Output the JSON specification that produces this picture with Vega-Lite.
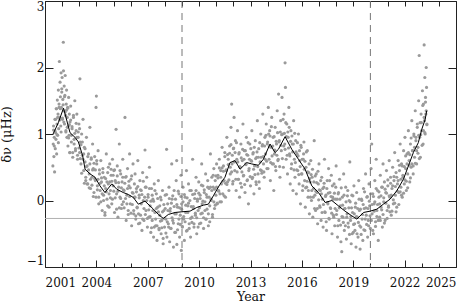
{
  "$schema": "https://vega.github.io/schema/vega-lite/v6.json",
  "width": 411,
  "height": 266,
  "autosize": "none",
  "padding": {"left": 45, "top": 1, "right": 17, "bottom": 36},
  "config": {
    "view": {"stroke": "#222", "strokeWidth": 1},
    "font": "DejaVu Serif",
    "axis": {"grid": false, "domain": false, "tickColor": "#222", "labelColor": "#111", "titleColor": "#111", "labelFont": "DejaVu Serif", "titleFont": "DejaVu Serif", "labelFontSize": 12, "titleFontSize": 13, "titleFontWeight": "normal"}
  },
  "datasets": {
    "pts": [
{"t":2001.46,"v":0.52},{"t":2001.48,"v":0.85},{"t":2001.50,"v":1.12},{"t":2001.52,"v":0.66},{"t":2001.54,"v":0.95},{"t":2001.56,"v":0.43},{"t":2001.58,"v":1.05},{"t":2001.60,"v":0.78},{"t":2001.62,"v":1.22},{"t":2001.64,"v":0.92},{"t":2001.66,"v":1.38},{"t":2001.68,"v":0.70},{"t":2001.70,"v":1.15},{"t":2001.72,"v":1.51},{"t":2001.74,"v":0.98},{"t":2001.76,"v":1.30},{"t":2001.78,"v":1.66},{"t":2001.80,"v":1.08},{"t":2001.82,"v":1.45},{"t":2001.84,"v":2.09},{"t":2001.86,"v":1.25},{"t":2001.88,"v":1.78},{"t":2001.90,"v":1.56},{"t":2001.92,"v":1.12},{"t":2001.94,"v":1.92},{"t":2001.96,"v":1.40},{"t":2001.98,"v":1.68},{"t":2002.00,"v":1.85},{"t":2002.02,"v":1.22},{"t":2002.04,"v":1.52},{"t":2002.07,"v":2.38},{"t":2002.08,"v":1.95},{"t":2002.10,"v":1.35},{"t":2002.12,"v":1.72},{"t":2002.14,"v":1.15},{"t":2002.16,"v":1.58},{"t":2002.18,"v":1.88},{"t":2002.20,"v":1.28},{"t":2002.22,"v":1.05},{"t":2002.24,"v":1.45},{"t":2002.26,"v":1.66},{"t":2002.28,"v":0.95},{"t":2002.30,"v":1.25},{"t":2002.32,"v":1.40},{"t":2002.34,"v":0.82},{"t":2002.36,"v":1.12},{"t":2002.38,"v":1.55},{"t":2002.40,"v":0.98},{"t":2002.42,"v":1.30},{"t":2002.44,"v":0.72},{"t":2002.46,"v":1.18},{"t":2002.50,"v":1.42},{"t":2002.54,"v":0.88},{"t":2002.58,"v":1.08},{"t":2002.62,"v":0.65},{"t":2002.66,"v":1.25},{"t":2002.70,"v":0.92},{"t":2002.74,"v":1.50},{"t":2002.78,"v":0.78},{"t":2002.82,"v":1.05},{"t":2002.86,"v":1.30},{"t":2002.90,"v":0.62},{"t":2002.94,"v":0.95},{"t":2002.98,"v":1.15},{"t":2003.02,"v":0.72},{"t":2003.04,"v":1.83},{"t":2003.06,"v":0.88},{"t":2003.10,"v":0.55},{"t":2003.14,"v":1.00},{"t":2003.18,"v":0.68},{"t":2003.22,"v":1.22},{"t":2003.26,"v":0.45},{"t":2003.30,"v":0.80},{"t":2003.34,"v":0.58},{"t":2003.38,"v":0.30},{"t":2003.42,"v":0.95},{"t":2003.46,"v":0.52},{"t":2003.50,"v":0.25},{"t":2003.54,"v":0.70},{"t":2003.58,"v":0.40},{"t":2003.62,"v":1.10},{"t":2003.66,"v":0.18},{"t":2003.70,"v":0.62},{"t":2003.74,"v":0.35},{"t":2003.78,"v":0.85},{"t":2003.82,"v":0.48},{"t":2003.86,"v":0.12},{"t":2003.90,"v":0.66},{"t":2003.94,"v":0.30},{"t":2003.98,"v":1.40},{"t":2004.00,"v":1.57},{"t":2004.02,"v":0.55},{"t":2004.06,"v":0.22},{"t":2004.10,"v":0.75},{"t":2004.14,"v":-0.05},{"t":2004.18,"v":0.40},{"t":2004.22,"v":0.15},{"t":2004.26,"v":0.60},{"t":2004.30,"v":0.28},{"t":2004.34,"v":-0.15},{"t":2004.38,"v":0.48},{"t":2004.42,"v":0.08},{"t":2004.46,"v":0.35},{"t":2004.50,"v":-0.22},{"t":2004.54,"v":0.18},{"t":2004.58,"v":0.70},{"t":2004.62,"v":0.02},{"t":2004.66,"v":0.42},{"t":2004.70,"v":0.25},{"t":2004.74,"v":-0.10},{"t":2004.78,"v":0.55},{"t":2004.82,"v":0.15},{"t":2004.86,"v":0.38},{"t":2004.90,"v":-0.05},{"t":2004.94,"v":0.62},{"t":2004.98,"v":0.22},{"t":2005.02,"v":0.45},{"t":2005.06,"v":-0.18},{"t":2005.10,"v":0.30},{"t":2005.15,"v":1.07},{"t":2005.18,"v":0.10},{"t":2005.22,"v":0.52},{"t":2005.26,"v":-0.25},{"t":2005.30,"v":0.20},{"t":2005.34,"v":0.85},{"t":2005.38,"v":0.05},{"t":2005.42,"v":0.40},{"t":2005.46,"v":-0.12},{"t":2005.50,"v":0.28},{"t":2005.54,"v":0.62},{"t":2005.58,"v":-0.02},{"t":2005.62,"v":0.15},{"t":2005.67,"v":1.25},{"t":2005.70,"v":0.35},{"t":2005.74,"v":-0.30},{"t":2005.78,"v":0.08},{"t":2005.82,"v":0.48},{"t":2005.86,"v":-0.15},{"t":2005.90,"v":0.22},{"t":2005.94,"v":0.70},{"t":2005.98,"v":-0.05},{"t":2006.02,"v":0.32},{"t":2006.06,"v":-0.38},{"t":2006.10,"v":0.12},{"t":2006.14,"v":0.55},{"t":2006.18,"v":-0.20},{"t":2006.22,"v":0.05},{"t":2006.26,"v":0.40},{"t":2006.30,"v":-0.28},{"t":2006.34,"v":0.18},{"t":2006.38,"v":-0.10},{"t":2006.42,"v":0.60},{"t":2006.46,"v":-0.35},{"t":2006.50,"v":0.08},{"t":2006.54,"v":0.30},{"t":2006.58,"v":-0.22},{"t":2006.62,"v":0.15},{"t":2006.66,"v":-0.45},{"t":2006.70,"v":0.42},{"t":2006.74,"v":0.00},{"t":2006.78,"v":-0.30},{"t":2006.84,"v":0.76},{"t":2006.86,"v":0.20},{"t":2006.90,"v":-0.15},{"t":2006.94,"v":0.35},{"t":2006.98,"v":-0.40},{"t":2007.02,"v":0.05},{"t":2007.06,"v":-0.25},{"t":2007.10,"v":0.50},{"t":2007.14,"v":-0.08},{"t":2007.18,"v":-0.48},{"t":2007.22,"v":0.18},{"t":2007.26,"v":-0.30},{"t":2007.30,"v":0.02},{"t":2007.34,"v":-0.55},{"t":2007.38,"v":0.25},{"t":2007.42,"v":-0.18},{"t":2007.46,"v":-0.38},{"t":2007.50,"v":0.10},{"t":2007.54,"v":-0.60},{"t":2007.58,"v":-0.10},{"t":2007.62,"v":0.30},{"t":2007.66,"v":-0.42},{"t":2007.70,"v":-0.22},{"t":2007.74,"v":0.05},{"t":2007.78,"v":-0.50},{"t":2007.82,"v":-0.30},{"t":2007.86,"v":0.15},{"t":2007.90,"v":-0.65},{"t":2007.94,"v":-0.15},{"t":2007.98,"v":-0.40},{"t":2008.02,"v":0.08},{"t":2008.06,"v":-0.28},{"t":2008.10,"v":0.77},{"t":2008.12,"v":-0.55},{"t":2008.16,"v":-0.05},{"t":2008.20,"v":-0.35},{"t":2008.24,"v":0.20},{"t":2008.28,"v":-0.62},{"t":2008.32,"v":-0.12},{"t":2008.36,"v":-0.42},{"t":2008.40,"v":0.55},{"t":2008.42,"v":0.02},{"t":2008.46,"v":-0.30},{"t":2008.50,"v":-0.70},{"t":2008.54,"v":0.15},{"t":2008.58,"v":-0.20},{"t":2008.62,"v":-0.48},{"t":2008.66,"v":0.30},{"t":2008.69,"v":0.60},{"t":2008.70,"v":-0.66},{"t":2008.74,"v":-0.10},{"t":2008.78,"v":-0.35},{"t":2008.82,"v":0.10},{"t":2008.86,"v":-0.55},{"t":2008.90,"v":-0.22},{"t":2008.94,"v":0.38},{"t":2008.96,"v":-0.75},{"t":2008.98,"v":-0.05},{"t":2009.02,"v":-0.40},{"t":2009.06,"v":0.20},{"t":2009.10,"v":-0.28},{"t":2009.14,"v":-0.60},{"t":2009.18,"v":0.05},{"t":2009.22,"v":-0.18},{"t":2009.26,"v":0.45},{"t":2009.30,"v":-0.45},{"t":2009.34,"v":-0.08},{"t":2009.38,"v":0.25},{"t":2009.42,"v":-0.35},{"t":2009.46,"v":0.00},{"t":2009.50,"v":-0.55},{"t":2009.54,"v":0.15},{"t":2009.58,"v":-0.25},{"t":2009.62,"v":0.62},{"t":2009.66,"v":-0.12},{"t":2009.70,"v":-0.40},{"t":2009.74,"v":0.10},{"t":2009.78,"v":-0.22},{"t":2009.82,"v":0.35},{"t":2009.86,"v":-0.50},{"t":2009.90,"v":0.02},{"t":2009.94,"v":-0.15},{"t":2009.98,"v":0.28},{"t":2010.02,"v":-0.35},{"t":2010.06,"v":0.08},{"t":2010.10,"v":-0.20},{"t":2010.15,"v":0.55},{"t":2010.18,"v":-0.05},{"t":2010.22,"v":0.22},{"t":2010.26,"v":-0.42},{"t":2010.30,"v":0.12},{"t":2010.34,"v":-0.15},{"t":2010.38,"v":0.40},{"t":2010.42,"v":-0.28},{"t":2010.46,"v":0.05},{"t":2010.50,"v":0.30},{"t":2010.54,"v":-0.38},{"t":2010.58,"v":0.18},{"t":2010.62,"v":-0.08},{"t":2010.66,"v":0.70},{"t":2010.70,"v":0.02},{"t":2010.74,"v":0.35},{"t":2010.78,"v":-0.25},{"t":2010.82,"v":0.20},{"t":2010.86,"v":0.48},{"t":2010.90,"v":-0.12},{"t":2010.94,"v":0.30},{"t":2010.98,"v":0.08},{"t":2011.02,"v":0.55},{"t":2011.06,"v":-0.05},{"t":2011.10,"v":0.38},{"t":2011.14,"v":0.15},{"t":2011.18,"v":0.62},{"t":2011.22,"v":-0.02},{"t":2011.26,"v":0.45},{"t":2011.30,"v":0.25},{"t":2011.34,"v":0.80},{"t":2011.38,"v":0.10},{"t":2011.42,"v":0.52},{"t":2011.46,"v":0.30},{"t":2011.50,"v":0.72},{"t":2011.54,"v":0.05},{"t":2011.58,"v":0.45},{"t":2011.62,"v":0.95},{"t":2011.66,"v":0.28},{"t":2011.70,"v":0.62},{"t":2011.74,"v":0.15},{"t":2011.78,"v":0.82},{"t":2011.82,"v":0.40},{"t":2011.86,"v":1.10},{"t":2011.90,"v":1.45},{"t":2011.92,"v":0.55},{"t":2011.96,"v":0.25},{"t":2012.00,"v":0.78},{"t":2012.04,"v":1.25},{"t":2012.08,"v":0.45},{"t":2012.12,"v":0.90},{"t":2012.16,"v":0.15},{"t":2012.20,"v":0.62},{"t":2012.24,"v":1.05},{"t":2012.28,"v":0.32},{"t":2012.32,"v":0.70},{"t":2012.36,"v":0.05},{"t":2012.40,"v":0.50},{"t":2012.44,"v":0.85},{"t":2012.48,"v":0.20},{"t":2012.52,"v":0.60},{"t":2012.56,"v":1.15},{"t":2012.60,"v":0.38},{"t":2012.64,"v":0.75},{"t":2012.68,"v":0.12},{"t":2012.72,"v":0.55},{"t":2012.76,"v":0.95},{"t":2012.80,"v":0.30},{"t":2012.84,"v":0.68},{"t":2012.88,"v":-0.05},{"t":2012.92,"v":0.48},{"t":2012.96,"v":0.85},{"t":2013.00,"v":0.22},{"t":2013.04,"v":0.60},{"t":2013.08,"v":1.05},{"t":2013.12,"v":0.35},{"t":2013.16,"v":0.72},{"t":2013.20,"v":0.10},{"t":2013.24,"v":0.52},{"t":2013.28,"v":0.90},{"t":2013.32,"v":0.28},{"t":2013.36,"v":0.65},{"t":2013.40,"v":1.20},{"t":2013.44,"v":0.40},{"t":2013.48,"v":0.78},{"t":2013.52,"v":0.18},{"t":2013.56,"v":0.58},{"t":2013.60,"v":1.00},{"t":2013.64,"v":0.45},{"t":2013.68,"v":0.82},{"t":2013.72,"v":1.30},{"t":2013.76,"v":0.55},{"t":2013.80,"v":0.35},{"t":2013.84,"v":0.95},{"t":2013.88,"v":0.70},{"t":2013.92,"v":1.15},{"t":2013.96,"v":0.48},{"t":2014.00,"v":0.88},{"t":2014.04,"v":1.40},{"t":2014.08,"v":0.62},{"t":2014.12,"v":1.05},{"t":2014.16,"v":0.30},{"t":2014.20,"v":0.80},{"t":2014.24,"v":1.25},{"t":2014.28,"v":0.55},{"t":2014.32,"v":0.95},{"t":2014.36,"v":0.15},{"t":2014.40,"v":0.70},{"t":2014.44,"v":1.10},{"t":2014.48,"v":0.45},{"t":2014.52,"v":0.85},{"t":2014.56,"v":1.35},{"t":2014.60,"v":0.60},{"t":2014.64,"v":1.60},{"t":2014.68,"v":0.90},{"t":2014.72,"v":0.35},{"t":2014.76,"v":1.20},{"t":2014.80,"v":0.75},{"t":2014.84,"v":1.55},{"t":2014.88,"v":1.00},{"t":2014.92,"v":0.50},{"t":2014.96,"v":1.30},{"t":2015.00,"v":0.85},{"t":2015.02,"v":2.07},{"t":2015.04,"v":1.70},{"t":2015.08,"v":0.62},{"t":2015.12,"v":1.15},{"t":2015.16,"v":0.40},{"t":2015.20,"v":0.95},{"t":2015.24,"v":1.40},{"t":2015.28,"v":0.70},{"t":2015.32,"v":0.25},{"t":2015.36,"v":1.05},{"t":2015.40,"v":0.55},{"t":2015.44,"v":0.85},{"t":2015.48,"v":0.15},{"t":2015.52,"v":1.20},{"t":2015.56,"v":0.62},{"t":2015.60,"v":0.35},{"t":2015.64,"v":0.90},{"t":2015.68,"v":0.10},{"t":2015.72,"v":0.70},{"t":2015.76,"v":0.45},{"t":2015.80,"v":1.00},{"t":2015.84,"v":0.25},{"t":2015.88,"v":0.60},{"t":2015.92,"v":-0.05},{"t":2015.96,"v":0.80},{"t":2016.00,"v":0.40},{"t":2016.04,"v":0.15},{"t":2016.08,"v":0.62},{"t":2016.12,"v":0.88},{"t":2016.16,"v":0.30},{"t":2016.20,"v":-0.10},{"t":2016.24,"v":0.50},{"t":2016.28,"v":0.20},{"t":2016.32,"v":0.75},{"t":2016.36,"v":0.05},{"t":2016.40,"v":0.42},{"t":2016.44,"v":-0.20},{"t":2016.48,"v":0.28},{"t":2016.52,"v":0.60},{"t":2016.56,"v":0.00},{"t":2016.60,"v":0.35},{"t":2016.64,"v":-0.25},{"t":2016.68,"v":0.18},{"t":2016.72,"v":0.90},{"t":2016.76,"v":0.08},{"t":2016.80,"v":-0.15},{"t":2016.84,"v":0.40},{"t":2016.88,"v":0.12},{"t":2016.92,"v":-0.35},{"t":2016.96,"v":0.25},{"t":2017.00,"v":0.55},{"t":2017.04,"v":-0.08},{"t":2017.08,"v":0.15},{"t":2017.12,"v":-0.30},{"t":2017.16,"v":0.35},{"t":2017.20,"v":0.02},{"t":2017.24,"v":-0.40},{"t":2017.28,"v":0.20},{"t":2017.32,"v":0.62},{"t":2017.36,"v":-0.18},{"t":2017.40,"v":0.08},{"t":2017.44,"v":-0.45},{"t":2017.48,"v":0.30},{"t":2017.52,"v":-0.05},{"t":2017.56,"v":0.48},{"t":2017.60,"v":-0.28},{"t":2017.64,"v":0.12},{"t":2017.68,"v":-0.12},{"t":2017.72,"v":0.38},{"t":2017.76,"v":-0.50},{"t":2017.80,"v":0.05},{"t":2017.84,"v":-0.22},{"t":2017.88,"v":0.25},{"t":2017.92,"v":-0.38},{"t":2017.96,"v":0.02},{"t":2018.00,"v":0.52},{"t":2018.04,"v":-0.15},{"t":2018.08,"v":-0.55},{"t":2018.12,"v":0.10},{"t":2018.16,"v":-0.30},{"t":2018.20,"v":0.32},{"t":2018.24,"v":-0.08},{"t":2018.28,"v":-0.62},{"t":2018.33,"v":-0.77},{"t":2018.36,"v":0.05},{"t":2018.40,"v":-0.25},{"t":2018.44,"v":0.40},{"t":2018.48,"v":-0.45},{"t":2018.52,"v":-0.12},{"t":2018.56,"v":0.20},{"t":2018.60,"v":-0.58},{"t":2018.64,"v":-0.20},{"t":2018.68,"v":0.15},{"t":2018.72,"v":-0.40},{"t":2018.76,"v":0.00},{"t":2018.80,"v":0.58},{"t":2018.84,"v":-0.30},{"t":2018.88,"v":-0.65},{"t":2018.92,"v":0.08},{"t":2018.96,"v":-0.18},{"t":2019.00,"v":-0.48},{"t":2019.04,"v":0.22},{"t":2019.08,"v":-0.35},{"t":2019.12,"v":-0.10},{"t":2019.16,"v":-0.70},{"t":2019.20,"v":0.12},{"t":2019.24,"v":-0.25},{"t":2019.28,"v":-0.55},{"t":2019.32,"v":0.30},{"t":2019.36,"v":-0.15},{"t":2019.40,"v":-0.73},{"t":2019.44,"v":-0.40},{"t":2019.48,"v":0.02},{"t":2019.52,"v":-0.28},{"t":2019.56,"v":-0.60},{"t":2019.60,"v":0.18},{"t":2019.64,"v":-0.12},{"t":2019.68,"v":-0.45},{"t":2019.72,"v":0.40},{"t":2019.76,"v":-0.22},{"t":2019.80,"v":0.05},{"t":2019.84,"v":-0.55},{"t":2019.88,"v":-0.30},{"t":2019.92,"v":0.25},{"t":2019.96,"v":-0.08},{"t":2020.00,"v":-0.42},{"t":2020.04,"v":0.48},{"t":2020.08,"v":0.85},{"t":2020.10,"v":-0.20},{"t":2020.14,"v":0.10},{"t":2020.18,"v":-0.50},{"t":2020.22,"v":-0.05},{"t":2020.26,"v":0.30},{"t":2020.30,"v":-0.32},{"t":2020.34,"v":0.62},{"t":2020.38,"v":-0.15},{"t":2020.42,"v":0.15},{"t":2020.46,"v":-0.60},{"t":2020.50,"v":0.05},{"t":2020.54,"v":-0.25},{"t":2020.58,"v":0.38},{"t":2020.62,"v":-0.10},{"t":2020.66,"v":0.20},{"t":2020.70,"v":-0.40},{"t":2020.74,"v":0.55},{"t":2020.78,"v":-0.02},{"t":2020.82,"v":0.28},{"t":2020.86,"v":-0.30},{"t":2020.90,"v":0.12},{"t":2020.94,"v":0.45},{"t":2020.98,"v":-0.15},{"t":2021.02,"v":0.22},{"t":2021.06,"v":-0.08},{"t":2021.10,"v":0.60},{"t":2021.14,"v":0.05},{"t":2021.18,"v":0.35},{"t":2021.22,"v":-0.22},{"t":2021.26,"v":0.18},{"t":2021.30,"v":0.50},{"t":2021.34,"v":-0.05},{"t":2021.38,"v":0.30},{"t":2021.42,"v":0.72},{"t":2021.46,"v":0.08},{"t":2021.50,"v":0.42},{"t":2021.54,"v":-0.10},{"t":2021.58,"v":0.25},{"t":2021.62,"v":0.60},{"t":2021.66,"v":0.12},{"t":2021.70,"v":0.45},{"t":2021.74,"v":0.85},{"t":2021.78,"v":0.20},{"t":2021.82,"v":0.55},{"t":2021.86,"v":0.05},{"t":2021.90,"v":0.38},{"t":2021.94,"v":0.75},{"t":2021.98,"v":0.25},{"t":2022.02,"v":0.95},{"t":2022.06,"v":0.48},{"t":2022.10,"v":0.15},{"t":2022.14,"v":0.70},{"t":2022.18,"v":0.40},{"t":2022.22,"v":1.05},{"t":2022.26,"v":0.60},{"t":2022.30,"v":0.28},{"t":2022.34,"v":0.85},{"t":2022.38,"v":0.50},{"t":2022.42,"v":1.20},{"t":2022.46,"v":0.75},{"t":2022.50,"v":0.40},{"t":2022.54,"v":1.00},{"t":2022.58,"v":0.65},{"t":2022.62,"v":1.35},{"t":2022.66,"v":0.90},{"t":2022.70,"v":0.55},{"t":2022.74,"v":1.15},{"t":2022.78,"v":0.80},{"t":2022.82,"v":1.50},{"t":2022.85,"v":2.18},{"t":2022.88,"v":0.95},{"t":2022.92,"v":0.65},{"t":2022.96,"v":1.30},{"t":2023.00,"v":1.05},{"t":2023.04,"v":1.65},{"t":2023.08,"v":0.85},{"t":2023.10,"v":1.45},{"t":2023.14,"v":2.34},{"t":2023.16,"v":1.20},{"t":2023.18,"v":1.85},{"t":2023.20,"v":1.00},{"t":2023.22,"v":1.55},{"t":2023.24,"v":1.30},{"t":2023.26,"v":2.00},{"t":2023.28,"v":1.70},{"t":2023.30,"v":1.15},
{"t":2001.50,"v":1.06},{"t":2001.54,"v":0.82},{"t":2001.58,"v":1.22},{"t":2001.62,"v":1.02},{"t":2001.66,"v":1.38},{"t":2001.70,"v":0.99},{"t":2001.74,"v":1.25},{"t":2001.78,"v":0.87},{"t":2001.82,"v":1.40},{"t":2001.86,"v":1.21},{"t":2001.90,"v":1.38},{"t":2001.94,"v":1.03},{"t":2001.98,"v":1.63},{"t":2002.02,"v":1.24},{"t":2002.06,"v":1.44},{"t":2002.10,"v":1.18},{"t":2002.14,"v":1.56},
{"t":2002.18,"v":1.33},{"t":2002.22,"v":1.03},{"t":2002.26,"v":1.36},{"t":2002.30,"v":1.10},{"t":2002.34,"v":1.39},{"t":2002.38,"v":0.94},{"t":2002.42,"v":1.14},{"t":2002.46,"v":0.72},{"t":2002.50,"v":1.21},{"t":2002.54,"v":0.98},{"t":2002.58,"v":1.11},{"t":2002.62,"v":0.72},{"t":2002.66,"v":1.28},{"t":2002.70,"v":0.85},{"t":2002.74,"v":1.01},{"t":2002.78,"v":0.75},{"t":2002.82,"v":1.16},
{"t":2002.86,"v":0.95},{"t":2002.90,"v":0.68},{"t":2002.94,"v":1.03},{"t":2002.98,"v":0.79},{"t":2003.02,"v":1.08},{"t":2003.06,"v":0.63},{"t":2003.10,"v":0.84},{"t":2003.14,"v":0.41},{"t":2003.18,"v":0.88},{"t":2003.22,"v":0.62},{"t":2003.26,"v":0.70},{"t":2003.30,"v":0.26},{"t":2003.34,"v":0.78},{"t":2003.38,"v":0.35},{"t":2003.42,"v":0.51},{"t":2003.46,"v":0.25},{"t":2003.50,"v":0.66},
{"t":2003.54,"v":0.46},{"t":2003.58,"v":0.19},{"t":2003.62,"v":0.55},{"t":2003.66,"v":0.32},{"t":2003.70,"v":0.64},{"t":2003.74,"v":0.23},{"t":2003.78,"v":0.46},{"t":2003.82,"v":0.06},{"t":2003.86,"v":0.56},{"t":2003.90,"v":0.33},{"t":2003.94,"v":0.46},{"t":2003.98,"v":0.05},{"t":2004.02,"v":0.60},{"t":2004.06,"v":0.16},{"t":2004.10,"v":0.32},{"t":2004.14,"v":0.05},{"t":2004.18,"v":0.46},
{"t":2004.22,"v":0.26},{"t":2004.26,"v":-0.02},{"t":2004.30,"v":0.34},{"t":2004.34,"v":0.10},{"t":2004.38,"v":0.42},{"t":2004.42,"v":0.00},{"t":2004.46,"v":0.22},{"t":2004.50,"v":-0.18},{"t":2004.54,"v":0.33},{"t":2004.58,"v":0.13},{"t":2004.62,"v":0.28},{"t":2004.66,"v":-0.08},{"t":2004.70,"v":0.50},{"t":2004.74,"v":0.10},{"t":2004.78,"v":0.28},{"t":2004.82,"v":0.04},{"t":2004.86,"v":0.47},
{"t":2004.90,"v":0.29},{"t":2004.94,"v":0.02},{"t":2004.98,"v":0.38},{"t":2005.02,"v":0.14},{"t":2005.06,"v":0.46},{"t":2005.10,"v":0.04},{"t":2005.14,"v":0.27},{"t":2005.18,"v":-0.13},{"t":2005.22,"v":0.37},{"t":2005.26,"v":0.14},{"t":2005.30,"v":0.27},{"t":2005.34,"v":-0.11},{"t":2005.38,"v":0.45},{"t":2005.42,"v":0.03},{"t":2005.46,"v":0.19},{"t":2005.50,"v":-0.06},{"t":2005.54,"v":0.35},
{"t":2005.58,"v":0.16},{"t":2005.62,"v":-0.11},{"t":2005.66,"v":0.26},{"t":2005.70,"v":0.03},{"t":2005.74,"v":0.36},{"t":2005.78,"v":-0.05},{"t":2005.82,"v":0.18},{"t":2005.86,"v":-0.21},{"t":2005.90,"v":0.29},{"t":2005.94,"v":0.06},{"t":2005.98,"v":0.19},{"t":2006.02,"v":-0.19},{"t":2006.06,"v":0.37},{"t":2006.10,"v":-0.06},{"t":2006.14,"v":0.11},{"t":2006.18,"v":-0.15},{"t":2006.22,"v":0.25},
{"t":2006.26,"v":0.05},{"t":2006.30,"v":-0.23},{"t":2006.34,"v":0.13},{"t":2006.38,"v":-0.11},{"t":2006.42,"v":0.21},{"t":2006.46,"v":-0.20},{"t":2006.50,"v":0.04},{"t":2006.54,"v":-0.34},{"t":2006.58,"v":0.16},{"t":2006.62,"v":-0.05},{"t":2006.66,"v":0.09},{"t":2006.70,"v":-0.28},{"t":2006.74,"v":0.29},{"t":2006.78,"v":-0.12},{"t":2006.82,"v":0.05},{"t":2006.86,"v":-0.21},{"t":2006.90,"v":0.20},
{"t":2006.94,"v":0.00},{"t":2006.98,"v":-0.27},{"t":2007.02,"v":0.09},{"t":2007.06,"v":-0.14},{"t":2007.10,"v":0.18},{"t":2007.14,"v":-0.24},{"t":2007.18,"v":-0.01},{"t":2007.22,"v":-0.41},{"t":2007.26,"v":0.08},{"t":2007.30,"v":-0.15},{"t":2007.34,"v":-0.01},{"t":2007.38,"v":-0.40},{"t":2007.42,"v":0.15},{"t":2007.46,"v":-0.28},{"t":2007.50,"v":-0.12},{"t":2007.54,"v":-0.38},{"t":2007.58,"v":0.03},
{"t":2007.62,"v":-0.17},{"t":2007.66,"v":-0.44},{"t":2007.70,"v":-0.08},{"t":2007.74,"v":-0.31},{"t":2007.78,"v":0.01},{"t":2007.82,"v":-0.41},{"t":2007.86,"v":-0.17},{"t":2007.90,"v":-0.57},{"t":2007.94,"v":-0.06},{"t":2007.98,"v":-0.27},{"t":2008.02,"v":-0.12},{"t":2008.06,"v":-0.49},{"t":2008.10,"v":0.09},{"t":2008.14,"v":-0.32},{"t":2008.18,"v":-0.15},{"t":2008.22,"v":-0.40},{"t":2008.26,"v":0.03},
{"t":2008.30,"v":-0.16},{"t":2008.34,"v":-0.42},{"t":2008.38,"v":-0.04},{"t":2008.42,"v":-0.26},{"t":2008.46,"v":0.07},{"t":2008.50,"v":-0.34},{"t":2008.54,"v":-0.09},{"t":2008.58,"v":-0.48},{"t":2008.62,"v":0.02},{"t":2008.66,"v":-0.20},{"t":2008.70,"v":-0.06},{"t":2008.74,"v":-0.44},{"t":2008.78,"v":0.14},{"t":2008.82,"v":-0.28},{"t":2008.86,"v":-0.11},{"t":2008.90,"v":-0.36},{"t":2008.94,"v":0.06},
{"t":2008.98,"v":-0.13},{"t":2009.02,"v":-0.39},{"t":2009.06,"v":-0.02},{"t":2009.10,"v":-0.24},{"t":2009.14,"v":0.09},{"t":2009.18,"v":-0.32},{"t":2009.22,"v":-0.07},{"t":2009.26,"v":-0.46},{"t":2009.30,"v":0.04},{"t":2009.34,"v":-0.18},{"t":2009.38,"v":-0.04},{"t":2009.42,"v":-0.42},{"t":2009.46,"v":0.15},{"t":2009.50,"v":-0.27},{"t":2009.54,"v":-0.09},{"t":2009.58,"v":-0.33},{"t":2009.62,"v":0.09},
{"t":2009.66,"v":-0.09},{"t":2009.70,"v":-0.35},{"t":2009.74,"v":0.03},{"t":2009.78,"v":-0.19},{"t":2009.82,"v":0.15},{"t":2009.86,"v":-0.26},{"t":2009.90,"v":-0.01},{"t":2009.94,"v":-0.40},{"t":2009.98,"v":0.11},{"t":2010.02,"v":-0.11},{"t":2010.06,"v":0.03},{"t":2010.10,"v":-0.34},{"t":2010.14,"v":0.23},{"t":2010.18,"v":-0.19},{"t":2010.22,"v":-0.01},{"t":2010.26,"v":-0.26},{"t":2010.30,"v":0.16},
{"t":2010.34,"v":-0.02},{"t":2010.38,"v":-0.28},{"t":2010.42,"v":0.09},{"t":2010.46,"v":-0.13},{"t":2010.50,"v":0.20},{"t":2010.54,"v":-0.20},{"t":2010.58,"v":0.05},{"t":2010.62,"v":-0.32},{"t":2010.66,"v":0.20},{"t":2010.70,"v":0.00},{"t":2010.74,"v":0.15},{"t":2010.78,"v":-0.21},{"t":2010.82,"v":0.38},{"t":2010.86,"v":-0.02},{"t":2010.90,"v":0.17},{"t":2010.94,"v":-0.07},{"t":2010.98,"v":0.37},
{"t":2011.02,"v":0.20},{"t":2011.06,"v":-0.04},{"t":2011.10,"v":0.34},{"t":2011.14,"v":0.14},{"t":2011.18,"v":0.49},{"t":2011.22,"v":0.10},{"t":2011.26,"v":0.35},{"t":2011.30,"v":-0.02},{"t":2011.34,"v":0.49},{"t":2011.38,"v":0.29},{"t":2011.42,"v":0.44},{"t":2011.46,"v":0.07},{"t":2011.50,"v":0.66},{"t":2011.54,"v":0.26},{"t":2011.58,"v":0.46},{"t":2011.62,"v":0.24},{"t":2011.66,"v":0.69},
{"t":2011.70,"v":0.54},{"t":2011.74,"v":0.31},{"t":2011.78,"v":0.71},{"t":2011.82,"v":0.50},{"t":2011.86,"v":0.84},{"t":2011.90,"v":0.43},{"t":2011.94,"v":0.68},{"t":2011.98,"v":0.29},{"t":2012.02,"v":0.79},{"t":2012.06,"v":0.58},{"t":2012.10,"v":0.72},{"t":2012.14,"v":0.32},{"t":2012.18,"v":0.87},{"t":2012.22,"v":0.43},{"t":2012.26,"v":0.58},{"t":2012.30,"v":0.32},{"t":2012.34,"v":0.72},
{"t":2012.38,"v":0.51},{"t":2012.42,"v":0.26},{"t":2012.46,"v":0.64},{"t":2012.50,"v":0.43},{"t":2012.54,"v":0.77},{"t":2012.58,"v":0.37},{"t":2012.62,"v":0.62},{"t":2012.66,"v":0.24},{"t":2012.70,"v":0.75},{"t":2012.74,"v":0.54},{"t":2012.78,"v":0.69},{"t":2012.82,"v":0.31},{"t":2012.86,"v":0.87},{"t":2012.90,"v":0.45},{"t":2012.94,"v":0.62},{"t":2012.98,"v":0.36},{"t":2013.02,"v":0.78},
{"t":2013.06,"v":0.59},{"t":2013.10,"v":0.33},{"t":2013.14,"v":0.70},{"t":2013.18,"v":0.47},{"t":2013.22,"v":0.80},{"t":2013.26,"v":0.39},{"t":2013.30,"v":0.63},{"t":2013.34,"v":0.24},{"t":2013.38,"v":0.73},{"t":2013.42,"v":0.51},{"t":2013.46,"v":0.65},{"t":2013.50,"v":0.28},{"t":2013.54,"v":0.87},{"t":2013.58,"v":0.46},{"t":2013.62,"v":0.65},{"t":2013.66,"v":0.41},{"t":2013.70,"v":0.84},
{"t":2013.74,"v":0.66},{"t":2013.78,"v":0.43},{"t":2013.82,"v":0.82},{"t":2013.86,"v":0.62},{"t":2013.90,"v":0.98},{"t":2013.94,"v":0.59},{"t":2013.98,"v":0.85},{"t":2014.02,"v":0.48},{"t":2014.06,"v":1.00},{"t":2014.10,"v":0.81},{"t":2014.14,"v":0.97},{"t":2014.18,"v":0.57},{"t":2014.22,"v":1.11},{"t":2014.26,"v":0.67},{"t":2014.30,"v":0.82},{"t":2014.34,"v":0.55},{"t":2014.38,"v":0.96},
{"t":2014.42,"v":0.76},{"t":2014.46,"v":0.51},{"t":2014.50,"v":0.89},{"t":2014.54,"v":0.68},{"t":2014.58,"v":1.02},{"t":2014.62,"v":0.62},{"t":2014.66,"v":0.88},{"t":2014.70,"v":0.51},{"t":2014.74,"v":1.03},{"t":2014.78,"v":0.83},{"t":2014.82,"v":0.99},{"t":2014.86,"v":0.63},{"t":2014.90,"v":1.22},{"t":2014.94,"v":0.82},{"t":2014.98,"v":1.01},{"t":2015.02,"v":0.77},{"t":2015.06,"v":1.17},
{"t":2015.10,"v":0.96},{"t":2015.14,"v":0.68},{"t":2015.18,"v":1.03},{"t":2015.22,"v":0.79},{"t":2015.26,"v":1.10},{"t":2015.30,"v":0.67},{"t":2015.34,"v":0.89},{"t":2015.38,"v":0.48},{"t":2015.42,"v":0.97},{"t":2015.46,"v":0.73},{"t":2015.50,"v":0.85},{"t":2015.54,"v":0.46},{"t":2015.58,"v":1.01},{"t":2015.62,"v":0.57},{"t":2015.66,"v":0.73},{"t":2015.70,"v":0.46},{"t":2015.74,"v":0.87},
{"t":2015.78,"v":0.67},{"t":2015.82,"v":0.39},{"t":2015.86,"v":0.75},{"t":2015.90,"v":0.51},{"t":2015.94,"v":0.83},{"t":2015.98,"v":0.40},{"t":2016.02,"v":0.62},{"t":2016.06,"v":0.22},{"t":2016.10,"v":0.70},{"t":2016.14,"v":0.47},{"t":2016.18,"v":0.59},{"t":2016.22,"v":0.19},{"t":2016.26,"v":0.73},{"t":2016.30,"v":0.29},{"t":2016.34,"v":0.43},{"t":2016.38,"v":0.15},{"t":2016.42,"v":0.55},
{"t":2016.46,"v":0.33},{"t":2016.50,"v":0.05},{"t":2016.54,"v":0.39},{"t":2016.58,"v":0.15},{"t":2016.62,"v":0.47},{"t":2016.66,"v":0.05},{"t":2016.70,"v":0.28},{"t":2016.74,"v":-0.12},{"t":2016.78,"v":0.37},{"t":2016.82,"v":0.14},{"t":2016.86,"v":0.27},{"t":2016.90,"v":-0.12},{"t":2016.94,"v":0.44},{"t":2016.98,"v":0.01},{"t":2017.02,"v":0.16},{"t":2017.06,"v":-0.10},{"t":2017.10,"v":0.30},
{"t":2017.14,"v":0.10},{"t":2017.18,"v":-0.18},{"t":2017.22,"v":0.18},{"t":2017.26,"v":-0.06},{"t":2017.30,"v":0.26},{"t":2017.34,"v":-0.17},{"t":2017.38,"v":0.06},{"t":2017.42,"v":-0.32},{"t":2017.46,"v":0.18},{"t":2017.50,"v":-0.03},{"t":2017.54,"v":0.11},{"t":2017.58,"v":-0.27},{"t":2017.62,"v":0.30},{"t":2017.66,"v":-0.11},{"t":2017.70,"v":0.06},{"t":2017.74,"v":-0.19},{"t":2017.78,"v":0.22},
{"t":2017.82,"v":0.02},{"t":2017.86,"v":-0.25},{"t":2017.90,"v":0.11},{"t":2017.94,"v":-0.12},{"t":2017.98,"v":0.20},{"t":2018.02,"v":-0.21},{"t":2018.06,"v":0.02},{"t":2018.10,"v":-0.38},{"t":2018.14,"v":0.12},{"t":2018.18,"v":-0.11},{"t":2018.22,"v":0.02},{"t":2018.26,"v":-0.37},{"t":2018.30,"v":0.19},{"t":2018.34,"v":-0.24},{"t":2018.38,"v":-0.07},{"t":2018.42,"v":-0.33},{"t":2018.46,"v":0.08},
{"t":2018.50,"v":-0.12},{"t":2018.54,"v":-0.38},{"t":2018.58,"v":-0.02},{"t":2018.62,"v":-0.25},{"t":2018.66,"v":0.07},{"t":2018.70,"v":-0.34},{"t":2018.74,"v":-0.11},{"t":2018.78,"v":-0.51},{"t":2018.82,"v":-0.02},{"t":2018.86,"v":-0.24},{"t":2018.90,"v":-0.11},{"t":2018.94,"v":-0.50},{"t":2018.98,"v":0.07},{"t":2019.02,"v":-0.36},{"t":2019.06,"v":-0.20},{"t":2019.10,"v":-0.45},{"t":2019.14,"v":-0.04},
{"t":2019.18,"v":-0.24},{"t":2019.22,"v":-0.50},{"t":2019.26,"v":-0.12},{"t":2019.30,"v":-0.33},{"t":2019.34,"v":0.02},{"t":2019.38,"v":-0.38},{"t":2019.42,"v":-0.13},{"t":2019.46,"v":-0.51},{"t":2019.50,"v":0.00},{"t":2019.54,"v":-0.21},{"t":2019.58,"v":-0.06},{"t":2019.62,"v":-0.44},{"t":2019.66,"v":0.13},{"t":2019.70,"v":-0.28},{"t":2019.74,"v":-0.11},{"t":2019.78,"v":-0.36},{"t":2019.82,"v":0.06},
{"t":2019.86,"v":-0.12},{"t":2019.90,"v":-0.38},{"t":2019.94,"v":-0.01},{"t":2019.98,"v":-0.23},{"t":2020.02,"v":0.10},{"t":2020.06,"v":-0.30},{"t":2020.10,"v":-0.06},{"t":2020.14,"v":-0.45},{"t":2020.18,"v":0.06},{"t":2020.22,"v":-0.16},{"t":2020.26,"v":-0.02},{"t":2020.30,"v":-0.39},{"t":2020.34,"v":0.18},{"t":2020.38,"v":-0.24},{"t":2020.42,"v":-0.06},{"t":2020.46,"v":-0.30},{"t":2020.50,"v":0.13},
{"t":2020.54,"v":-0.05},{"t":2020.58,"v":-0.30},{"t":2020.62,"v":0.07},{"t":2020.66,"v":-0.14},{"t":2020.70,"v":0.20},{"t":2020.74,"v":-0.21},{"t":2020.78,"v":0.04},{"t":2020.82,"v":-0.34},{"t":2020.86,"v":0.17},{"t":2020.90,"v":-0.04},{"t":2020.94,"v":0.11},{"t":2020.98,"v":-0.27},{"t":2021.02,"v":0.31},{"t":2021.06,"v":-0.10},{"t":2021.10,"v":0.07},{"t":2021.14,"v":-0.17},{"t":2021.18,"v":0.26},
{"t":2021.22,"v":0.08},{"t":2021.26,"v":-0.16},{"t":2021.30,"v":0.22},{"t":2021.34,"v":0.01},{"t":2021.38,"v":0.36},{"t":2021.42,"v":-0.04},{"t":2021.46,"v":0.21},{"t":2021.50,"v":-0.17},{"t":2021.54,"v":0.35},{"t":2021.58,"v":0.14},{"t":2021.62,"v":0.30},{"t":2021.66,"v":-0.06},{"t":2021.70,"v":0.53},{"t":2021.74,"v":0.13},{"t":2021.78,"v":0.32},{"t":2021.82,"v":0.08},{"t":2021.86,"v":0.52},
{"t":2021.90,"v":0.35},{"t":2021.94,"v":0.11},{"t":2021.98,"v":0.51},{"t":2022.02,"v":0.31},{"t":2022.06,"v":0.67},{"t":2022.10,"v":0.29},{"t":2022.14,"v":0.55},{"t":2022.18,"v":0.19},{"t":2022.22,"v":0.72},{"t":2022.26,"v":0.53},{"t":2022.30,"v":0.69},{"t":2022.34,"v":0.34},{"t":2022.38,"v":0.94},{"t":2022.42,"v":0.55},{"t":2022.46,"v":0.75},{"t":2022.50,"v":0.52},{"t":2022.54,"v":0.97},
{"t":2022.58,"v":0.80},{"t":2022.62,"v":0.56},{"t":2022.66,"v":0.95},{"t":2022.70,"v":0.75},{"t":2022.74,"v":1.10},{"t":2022.78,"v":0.71},{"t":2022.82,"v":0.98},{"t":2022.86,"v":0.63},{"t":2022.90,"v":1.17},{"t":2022.94,"v":0.99},{"t":2022.98,"v":1.17},{"t":2023.02,"v":0.83},{"t":2023.06,"v":1.43},{"t":2023.10,"v":1.05},{"t":2023.14,"v":1.25},{"t":2023.18,"v":1.02},{"t":2023.22,"v":1.48},
{"t":2023.26,"v":1.35},{"t":2023.30,"v":1.14}
    ],
    "line": [
{"t":2001.47,"v":1.00},{"t":2001.78,"v":1.17},{"t":2002.08,"v":1.39},{"t":2002.46,"v":1.02},{"t":2002.75,"v":0.95},{"t":2002.95,"v":0.88},{"t":2003.2,"v":0.67},{"t":2003.34,"v":0.47},{"t":2003.63,"v":0.40},{"t":2003.92,"v":0.35},{"t":2004.21,"v":0.22},{"t":2004.50,"v":0.12},{"t":2004.90,"v":0.25},{"t":2005.19,"v":0.17},{"t":2005.57,"v":0.12},{"t":2005.87,"v":0.09},{"t":2006.16,"v":0.045},{"t":2006.45,"v":-0.055},{"t":2006.84,"v":-0.01},{"t":2007.33,"v":-0.13},{"t":2007.62,"v":-0.21},{"t":2007.91,"v":-0.27},{"t":2008.2,"v":-0.21},{"t":2008.6,"v":-0.18},{"t":2008.98,"v":-0.17},{"t":2009.47,"v":-0.16},{"t":2009.86,"v":-0.105},{"t":2010.25,"v":-0.07},{"t":2010.54,"v":-0.055},{"t":2010.83,"v":0.07},{"t":2011.22,"v":0.245},{"t":2011.51,"v":0.35},{"t":2011.8,"v":0.57},{"t":2012.1,"v":0.60},{"t":2012.39,"v":0.47},{"t":2012.78,"v":0.57},{"t":2013.07,"v":0.55},{"t":2013.46,"v":0.53},{"t":2013.75,"v":0.62},{"t":2014.14,"v":0.85},{"t":2014.43,"v":0.72},{"t":2014.63,"v":0.77},{"t":2015.02,"v":0.96},{"t":2015.41,"v":0.77},{"t":2015.8,"v":0.62},{"t":2016.19,"v":0.47},{"t":2016.58,"v":0.22},{"t":2016.97,"v":0.12},{"t":2017.36,"v":-0.03},{"t":2017.75,"v":0.0},{"t":2018.13,"v":-0.08},{"t":2018.52,"v":-0.16},{"t":2018.91,"v":-0.23},{"t":2019.21,"v":-0.28},{"t":2019.6,"v":-0.18},{"t":2019.99,"v":-0.16},{"t":2020.38,"v":-0.13},{"t":2020.76,"v":-0.055},{"t":2021.15,"v":0.02},{"t":2021.54,"v":0.145},{"t":2021.93,"v":0.32},{"t":2022.22,"v":0.52},{"t":2022.51,"v":0.72},{"t":2022.8,"v":0.87},{"t":2023.0,"v":1.07},{"t":2023.2,"v":1.22},{"t":2023.29,"v":1.35}
    ],
    "minima": [{"t": 2009.0}, {"t": 2020.0}],
    "base": [{"v": -0.27}]
  },
  "resolve": {"axis": {"x": "independent", "y": "independent"}},
  "layer": [
    {
      "data": {"name": "base"},
      "mark": {"type": "rule", "color": "#b0b0b0", "strokeWidth": 1},
      "encoding": {
        "y": {"field": "v", "type": "quantitative", "scale": {"domain": [-1, 3], "nice": false}, "axis": null}
      }
    },
    {
      "data": {"name": "pts"},
      "mark": {"type": "circle", "color": "#9a9a9a", "opacity": 1, "size": 10},
      "encoding": {
        "x": {"field": "t", "type": "quantitative", "scale": {"domain": [2001, 2025], "nice": false, "zero": false},
              "axis": {"orient": "bottom", "values": [2001, 2004, 2007, 2010, 2013, 2016, 2019, 2022, 2025], "format": "d", "tickSize": -7, "labelPadding": 17, "title": "Year", "titlePadding": 2, "titleFontSize": 12.5}},
        "y": {"field": "v", "type": "quantitative", "scale": {"domain": [-1, 3], "nice": false},
              "axis": {"orient": "left", "values": [-1, 0, 1, 2, 3], "tickSize": -8, "labelPadding": 9, "labelFlush": true, "title": "δν (μHz)", "titlePadding": 13}}
      }
    },
    {
      "data": {"name": "minima"},
      "mark": {"type": "rule", "color": "#777777", "strokeWidth": 1, "strokeDash": [7, 5]},
      "encoding": {
        "x": {"field": "t", "type": "quantitative",
              "axis": {"orient": "top", "values": [2001,2002,2003,2004,2005,2006,2007,2008,2009,2010,2011,2012,2013,2014,2015,2016,2017,2018,2019,2020,2021,2022,2023,2024,2025], "labels": false, "tickSize": -5, "title": null}}
      }
    },
    {
      "data": {"name": "line"},
      "mark": {"type": "line", "color": "#000000", "strokeWidth": 1},
      "encoding": {
        "x": {"field": "t", "type": "quantitative",
              "axis": {"orient": "bottom", "values": [2002,2003,2005,2006,2008,2009,2011,2012,2014,2015,2017,2018,2020,2021,2023,2024], "labels": false, "tickSize": -4, "title": null}},
        "y": {"field": "v", "type": "quantitative",
              "axis": {"orient": "right", "values": [-1, 0, 1, 2, 3], "labels": false, "tickSize": -8, "title": null}}
      }
    }
  ]
}
